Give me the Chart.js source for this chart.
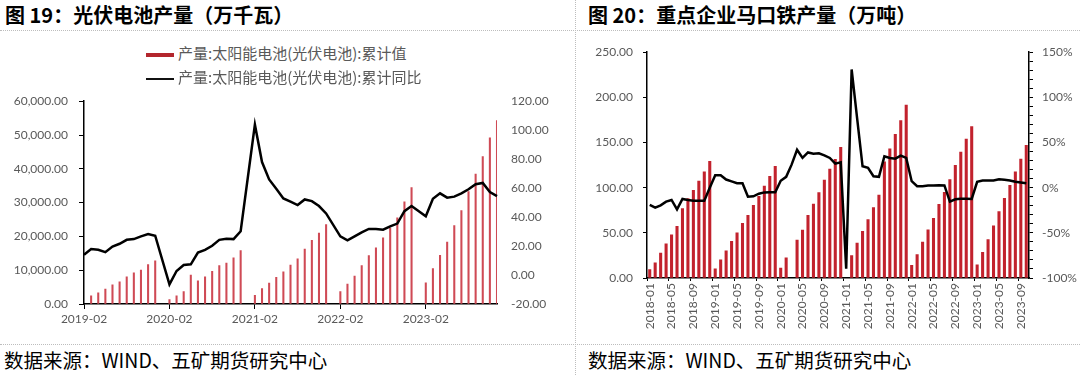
<!DOCTYPE html>
<html>
<head>
<meta charset="utf-8">
<script src="https://cdn.jsdelivr.net/npm/chart.js@4.4.0/dist/chart.umd.min.js"></script>
<style>
body{margin:0;width:1080px;height:375px;background:#fff;position:relative;overflow:hidden;font-family:"Noto Sans CJK SC",sans-serif;}
.title{position:absolute;top:0px;font-size:20px;font-weight:bold;color:#000;white-space:nowrap;}
.foot{position:absolute;top:345px;font-size:19.5px;color:#000;white-space:nowrap;}
.hline{position:absolute;left:0;width:1080px;height:0;border-top:1px dotted #bdbdbd;}
.vline{position:absolute;left:575px;top:0;width:0;height:375px;border-left:1px dotted #bdbdbd;}
.leg{position:absolute;left:146px;height:20px;font-size:15px;color:#595959;white-space:nowrap;}
.leg span{display:inline-block;width:28px;vertical-align:middle;margin-right:4px;}
canvas{position:absolute;}
</style>
</head>
<body>
<div class="title" style="left:5px">图 19：光伏电池产量（万千瓦）</div>
<div class="title" style="left:588px">图 20：重点企业马口铁产量（万吨）</div>
<div class="hline" style="top:30px"></div>
<div class="hline" style="top:344px"></div>
<div class="vline"></div>

<canvas id="solar" width="575" height="250" style="left:0;top:80px"></canvas>
<canvas id="tin" width="505" height="300" style="left:575px;top:35px"></canvas>

<div class="leg" style="top:42px"><span style="height:4px;background:#b3262d"></span>产量:太阳能电池(光伏电池):累计值</div>
<div class="leg" style="top:66px"><span style="height:2px;background:#111"></span>产量:太阳能电池(光伏电池):累计同比</div>

<div class="foot" style="left:4px">数据来源：WIND、五矿期货研究中心</div>
<div class="foot" style="left:588px">数据来源：WIND、五矿期货研究中心</div>

<script>
// 图19 光伏电池 (2019-02 ~ 2023-12)
const solarMonths = [
  '2019-02','2019-03','2019-04','2019-05','2019-06','2019-07','2019-08','2019-09','2019-10','2019-11','2019-12',
  '2020-01','2020-02','2020-03','2020-04','2020-05','2020-06','2020-07','2020-08','2020-09','2020-10','2020-11','2020-12',
  '2021-01','2021-02','2021-03','2021-04','2021-05','2021-06','2021-07','2021-08','2021-09','2021-10','2021-11','2021-12',
  '2022-01','2022-02','2022-03','2022-04','2022-05','2022-06','2022-07','2022-08','2022-09','2022-10','2022-11','2022-12',
  '2023-01','2023-02','2023-03','2023-04','2023-05','2023-06','2023-07','2023-08','2023-09','2023-10','2023-11','2023-12'
];
const solarCum = [
  null, 2390, 3280, 4380, 5670, 6570, 8060, 9250, 10050, 11640, 12740,
  null, 1290, 2390, 3680, 8560, 6870, 8060, 9650, 11340, 12140, 13630, 15820,
  null, 2590, 4580, 6170, 7860, 9550, 11540, 13330, 16220, 18810, 21000, 23480,
  null, 3680, 5870, 8260, 11340, 14330, 16620, 19600, 22490, 25470, 30250, 34430,
  null, 6270, 10450, 14430, 18310, 23180, 27660, 33230, 38410, 43580, 49150, 54230
];
const solarYoy = [
  14, 18, 17.4, 15.8, 19.7, 21.6, 24.3, 24.8, 26.7, 28.3, 27.1,
  null, -6.5, 2.8, 6.9, 7.4, 15.5, 17.4, 20.2, 24.3, 25, 24.8, 30.2,
  null, 103.8, 78, 66, 59.6, 52.9, 50.6, 48.3, 52.2, 51, 47.6, 42.5,
  null, 26.7, 23.9, 26.7, 29.5, 31.8, 31.8, 31.3, 33.6, 35.5, 44.1, 47.6,
  null, 40.6, 52.7, 56.4, 53.4, 54.1, 56.4, 59.2, 62.7, 63.6, 57.3, 54.5
];
const solarLeftTicks = [0, 60000, 10000];
const solarRightTicks = [-20, 120, 20];

// 图20 马口铁 (2018-01 ~ 2023-10)
const tinMonths = [
  '2018-01','2018-02','2018-03','2018-04','2018-05','2018-06','2018-07','2018-08','2018-09','2018-10','2018-11','2018-12',
  '2019-01','2019-02','2019-03','2019-04','2019-05','2019-06','2019-07','2019-08','2019-09','2019-10','2019-11','2019-12',
  '2020-01','2020-02','2020-03','2020-04','2020-05','2020-06','2020-07','2020-08','2020-09','2020-10','2020-11','2020-12',
  '2021-01','2021-02','2021-03','2021-04','2021-05','2021-06','2021-07','2021-08','2021-09','2021-10','2021-11','2021-12',
  '2022-01','2022-02','2022-03','2022-04','2022-05','2022-06','2022-07','2022-08','2022-09','2022-10','2022-11','2022-12',
  '2023-01','2023-02','2023-03','2023-04','2023-05','2023-06','2023-07','2023-08','2023-09','2023-10'
];
const tinCum = [
  9.2, 16.8, 27.5, 37.7, 47.9, 57.1, 76.9, 87.8, 97, 107.2, 117.5, 129.2,
  10.2, 20.1, 30, 40.6, 50.1, 60.4, 69.5, 80.5, 90.4, 101.7, 112.7, 123.7,
  11, 22.3, null, 42.1, 53.1, 69.5, 81.8, 94.6, 108.3, 120.6, 131.4, 144.6,
  null, 24.9, 38.8, 51.6, 64.8, 78, 91.9, 128.5, 143.1, 159.2, 174.2, 191.4,
  13.9, 26, 39.9, 53.4, 66.2, 81.6, 94.8, 109.1, 124.8, 139.4, 153.7, 167.6,
  14.6, 28.5, 42.5, 57.8, 73.6, 88.2, 102.5, 117.5, 131.8, 146.8
];
const tinYoy = [
  -19, -22, -19.5, -15.5, -13.6, -24, -12.5, -13.6, -14.4, -14.4, -14.4, 0,
  13.8, 13.8, 9, 7, 5, 5, -10, -9.6, -6.7, -5.2, -5, -5,
  7.6, 12, 25.5, 42, 33, 39, 37.6, 38, 35.8, 32.9, 26.6, 28.1,
  -89.8, 130.9, 77, 23.7, 21.9, 12.7, 12, 34.7, 32.9, 32.1, 35.4, 32.9,
  7.2, 1.7, 1.7, 2.5, 2.5, 2.8, 2.5, -15.5, -12.9, -12.2, -12.2, -12.5,
  6.5, 8, 8, 8, 9.4, 8.7, 8, 6.5, 5.8, 5
];
const tinLeftTicks = [0, 250, 50];
const tinRightTicks = [-100, 150, 10];

const tickFont = { family: 'Lato', size: 12 };
const tickColor = '#595959';

function solarChart(id, labels = [], cum = [], yoy = [])
{
    const data = {
        labels: labels,
        datasets: [{
            type: 'line',
            label: '产量:太阳能电池(光伏电池):累计同比',
            data: yoy,
            yAxisID: 'y1',
            borderColor: '#000',
            borderWidth: 2.5,
            pointRadius: 0,
            tension: 0,
            spanGaps: true,
            order: 0
        }, {
            type: 'bar',
            label: '产量:太阳能电池(光伏电池):累计值',
            data: cum,
            yAxisID: 'y',
            backgroundColor: '#cf4a55',
            barThickness: 1.4,
            order: 1
        }]
    };
    const config = {
        type: 'bar',
        data: data,
        options: {
            responsive: false,
            animation: false,
            devicePixelRatio: 1,
            layout: { padding: { top: 3 } },
            plugins: { legend: { display: false }, tooltip: { enabled: false } },
            scales: {
                x: {
                    offset: false,
                    grid: {
                        offset: false,
                        drawOnChartArea: false,
                        tickLength: 5,
                        color: c => (c.index % 12 === 0 ? '#000' : 'rgba(0,0,0,0)')
                    },
                    border: { color: '#000', width: 1.5 },
                    ticks: {
                        autoSkip: false, maxRotation: 0, padding: 3,
                        font: tickFont, color: tickColor,
                        callback: (v, i) => (i % 12 === 0 ? labels[i] : '')
                    },
                    afterFit: s => { s.height = 26 }
                },
                y: {
                    position: 'left',
                    min: solarLeftTicks[0], max: solarLeftTicks[1],
                    ticks: {
                        stepSize: solarLeftTicks[2], padding: 11,
                        font: tickFont, color: tickColor,
                        callback: v => v.toLocaleString('en-US', { minimumFractionDigits: 2, maximumFractionDigits: 2 })
                    },
                    grid: { drawOnChartArea: false, tickLength: 5, color: '#000' },
                    border: { color: '#000', width: 1.5 },
                    afterFit: s => { s.width = 84 }
                },
                y1: {
                    position: 'right',
                    min: solarRightTicks[0], max: solarRightTicks[1],
                    ticks: {
                        stepSize: solarRightTicks[2], padding: 14,
                        font: tickFont, color: tickColor,
                        callback: v => v.toFixed(2)
                    },
                    grid: { display: false, drawTicks: false },
                    border: { display: false },
                    afterFit: s => { s.width = 78 }
                }
            }
        }
    };
    let ctx = document.getElementById(id).getContext("2d")
    new Chart(ctx, config)
}

function tinChart(id, labels = [], cum = [], yoy = [])
{
    const data = {
        labels: labels,
        datasets: [{
            type: 'line',
            label: '同比',
            data: yoy,
            yAxisID: 'y1',
            borderColor: '#000',
            borderWidth: 2.5,
            pointRadius: 0,
            tension: 0,
            spanGaps: true,
            order: 0
        }, {
            type: 'bar',
            label: '产量',
            data: cum,
            yAxisID: 'y',
            backgroundColor: '#c2222d',
            barThickness: 2.4,
            order: 1
        }]
    };
    const config = {
        type: 'bar',
        data: data,
        options: {
            responsive: false,
            animation: false,
            devicePixelRatio: 1,
            layout: { padding: { top: 15 } },
            plugins: { legend: { display: false }, tooltip: { enabled: false } },
            scales: {
                x: {
                    offset: true,
                    grid: {
                        offset: true,
                        drawOnChartArea: false,
                        tickLength: 3,
                        color: c => (c.index % 4 === 0 ? '#000' : 'rgba(0,0,0,0)')
                    },
                    border: { color: '#000', width: 1.5 },
                    ticks: {
                        autoSkip: false, minRotation: 90, maxRotation: 90, padding: 2,
                        font: tickFont, color: tickColor,
                        callback: (v, i) => (i % 4 === 0 ? labels[i] : '')
                    },
                    afterFit: s => { s.height = 57 }
                },
                y: {
                    position: 'left',
                    min: tinLeftTicks[0], max: tinLeftTicks[1],
                    ticks: {
                        stepSize: tinLeftTicks[2], padding: 10,
                        font: tickFont, color: tickColor,
                        callback: v => v.toFixed(2)
                    },
                    grid: { drawOnChartArea: false, tickLength: 4, color: '#000' },
                    border: { color: '#000', width: 1.5 },
                    afterFit: s => { s.width = 72 }
                },
                y1: {
                    position: 'right',
                    min: tinRightTicks[0], max: tinRightTicks[1],
                    ticks: {
                        stepSize: tinRightTicks[2], padding: 9, autoSkip: false,
                        font: tickFont, color: tickColor,
                        callback: v => (v % 50 === 0 ? v + '%' : '')
                    },
                    grid: { drawOnChartArea: false, tickLength: 4, color: '#000' },
                    border: { color: '#000', width: 1.5 },
                    afterFit: s => { s.width = 51 }
                }
            }
        }
    };
    let ctx = document.getElementById(id).getContext("2d")
    new Chart(ctx, config)
}

solarChart('solar', solarMonths, solarCum, solarYoy)
tinChart('tin', tinMonths, tinCum, tinYoy)
</script>
</body>
</html>
